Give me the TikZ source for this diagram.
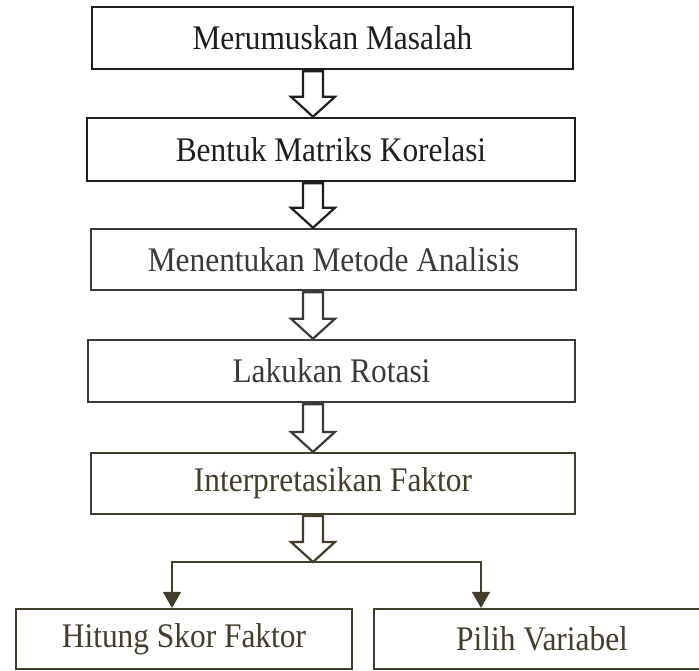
\documentclass[tikz,border=0pt]{standalone}
\usepackage{fontspec}
\setmainfont{Liberation Serif}[FakeStretch=0.91]
\usepackage{tikz}
\usetikzlibrary{arrows.meta,calc}
\definecolor{inkA}{HTML}{1E1E1E}
\definecolor{inkB}{HTML}{3A3A3A}
\definecolor{inkC}{HTML}{433D2C}
\tikzset{
    stepbox/.style={draw=#1, text=#1, line width=2.5pt, minimum height=62pt, inner sep=0pt, font=\fontsize{34.5}{40}\selectfont},
    hollow/.style={draw=#1, line width=2.2pt, fill=white, line join=miter},
    branch/.style={draw=inkC, line width=1.6pt, -{Triangle[length=16pt,width=18pt]}}
}
\begin{document}
\begin{tikzpicture}[x=1pt,y=-1pt]
    \useasboundingbox (0,0) rectangle (699,670);
    \node [stepbox=inkA, minimum width=481pt] (b1) at (332.5,38) {Merumuskan Masalah};
    \node [stepbox=inkA, minimum width=488pt, minimum height=63pt] (b2) at (331,149.5) {Bentuk Matriks Korelasi};
    \node [stepbox=inkB, minimum width=485pt, minimum height=61pt] (b3) at (333.5,259.5) {Menentukan Metode Analisis};
    \node [stepbox=inkB, minimum width=487pt] (b4) at (331.5,371) {Lakukan Rotasi};
    \node [stepbox=inkC, line width=2.2pt, minimum width=484pt, minimum height=61pt] (b5) at (333,483.5) {Interpretasikan Faktor};
    \node [stepbox=inkC, line width=2.2pt, minimum width=336pt, minimum height=60pt] (b6) at (184,639) {Hitung Skor Faktor};
    \node [stepbox=inkC, line width=2.2pt, minimum width=336pt, minimum height=60pt] (b7) at (542,639) {Pilih Variabel};
    \coordinate (ax) at (313,0);
    \coordinate (split) at (313,562);
    \foreach \a/\b/\c in {b1.south/b2.north/inkA, b2.south/b3.north/inkA, b3.south/b4.north/inkB, b4.south/b5.north/inkB, b5.south/split/inkC}
        \draw [hollow=\c] let \p1=(ax |- \a), \p2=(ax |- \b) in
            (\x1-10pt,\y1-1pt) -- (\x1-10pt,\y2+20pt) -- (\x1-22pt,\y2+20pt) -- (\x1,\y2)
            -- (\x1+22pt,\y2+20pt) -- (\x1+10pt,\y2+20pt) -- (\x1+10pt,\y1-1pt) -- cycle;
    \draw [branch] (split) -| ([xshift=-12pt]b6.north);
    \draw [branch] (split) -| ([xshift=-61pt]b7.north);
\end{tikzpicture}
\end{document}
